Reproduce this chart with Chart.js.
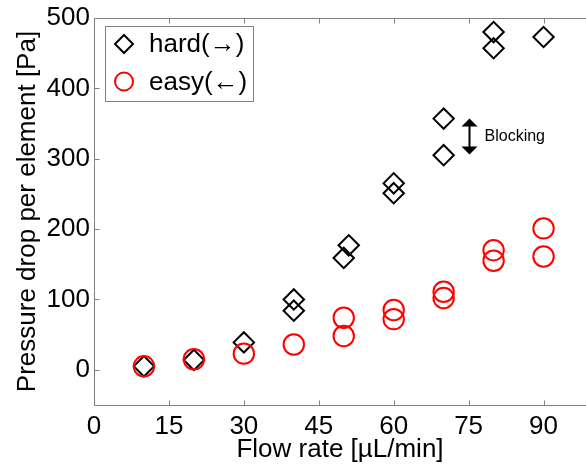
<!DOCTYPE html>
<html><head><meta charset="utf-8">
<script src="https://cdn.jsdelivr.net/npm/chart.js@4.4.1/dist/chart.umd.min.js"></script>
<style>html,body{margin:0;padding:0;background:#fff;overflow:hidden}canvas{display:block}</style>
</head><body>
<canvas id="c" width="586" height="466"></canvas>
<script>
// ---- data ----
const hardLabel = 'hard(\u2192)';
const hardX = [10, 20, 30, 40, 40, 50, 51, 60, 60, 70, 70, 80, 80, 90];
const hardY = [5, 14, 39, 100, 84, 159, 177, 265, 251, 357, 305, 480, 457, 473];
const easyLabel = 'easy(\u2190)';
const easyX = [10, 20, 30, 40, 50, 50, 60, 60, 70, 70, 80, 80, 90, 90];
const easyY = [5, 15, 23, 36, 74, 48, 85, 72, 111, 102, 170, 155, 201, 161];
const xTicks = [0, 15, 30, 45, 60, 75, 90];
const yTicks = [0, 100, 200, 300, 400, 500];
const xTitle = 'Flow rate [\u00b5L/min]';
const yTitle = 'Pressure drop per element [Pa]';
const blockLabel = 'Blocking';
const blockX = 75;
const blockTop = 357;
const blockBottom = 306;

const FONT = '"Liberation Sans", Arial, Helvetica, sans-serif';
const AXIS_COLOR = '#808080';

const axesPlugin = {
  id: 'axesBox',
  beforeDatasetsDraw(chart) {
    const {ctx, chartArea: {left, top, right, bottom}, scales: {x, y}} = chart;
    ctx.save();
    ctx.strokeStyle = AXIS_COLOR;
    ctx.lineWidth = 1;
    const L = Math.floor(left) + 0.5, T = Math.floor(top) + 0.5, B = Math.floor(bottom) + 0.5;
    ctx.beginPath();
    ctx.moveTo(L, B); ctx.lineTo(L, T); ctx.lineTo(right + 2, T);
    ctx.moveTo(L, B); ctx.lineTo(right + 2, B);
    const tl = 5;
    xTicks.forEach(v => {
      const px = Math.round(x.getPixelForValue(v)) + 0.5;
      ctx.moveTo(px, B); ctx.lineTo(px, B - tl);
      ctx.moveTo(px, T); ctx.lineTo(px, T + tl);
    });
    yTicks.forEach(v => {
      const py = Math.round(y.getPixelForValue(v)) + 0.5;
      ctx.moveTo(L, py); ctx.lineTo(L + tl, py);
    });
    ctx.stroke();
    ctx.restore();
  }
};

function drawMarker(ctx, style, cx, cy, r, color, lw) {
  ctx.save();
  ctx.strokeStyle = color; ctx.lineWidth = lw;
  ctx.beginPath();
  if (style === 'rectRot') {
    ctx.moveTo(cx - r, cy); ctx.lineTo(cx, cy - r); ctx.lineTo(cx + r, cy); ctx.lineTo(cx, cy + r); ctx.closePath();
  } else {
    ctx.arc(cx, cy, r, 0, Math.PI * 2);
  }
  ctx.stroke();
  ctx.restore();
}

const legendPlugin = {
  id: 'boxLegend',
  afterDraw(chart) {
    const {ctx} = chart;
    const bx = 105.5, by = 26.5, bw = 148, bh = 75;
    ctx.save();
    ctx.fillStyle = '#fff';
    ctx.fillRect(bx, by, bw, bh);
    ctx.strokeStyle = AXIS_COLOR; ctx.lineWidth = 1;
    ctx.strokeRect(bx, by, bw, bh);
    ctx.font = '26px ' + FONT;
    ctx.fillStyle = '#000';
    ctx.textBaseline = 'middle';
    chart.data.datasets.forEach((ds, i) => {
      const cy = 44 + i * 37.5;
      drawMarker(ctx, ds.pointStyle, 124, cy, 9, ds.borderColor, 2);
      ctx.fillText(ds.label, 149, cy + 1);
    });
    ctx.restore();
  }
};

const annotPlugin = {
  id: 'blocking',
  afterDatasetsDraw(chart) {
    const {ctx, scales: {x, y}} = chart;
    const px = Math.round(x.getPixelForValue(blockX)) + 0.5;
    const yt = y.getPixelForValue(blockTop), yb = y.getPixelForValue(blockBottom);
    const hw = 8, hh = 8;
    ctx.save();
    ctx.strokeStyle = '#000'; ctx.fillStyle = '#000'; ctx.lineWidth = 2;
    ctx.beginPath(); ctx.moveTo(px, yt + hh - 1); ctx.lineTo(px, yb - hh + 1); ctx.stroke();
    ctx.beginPath(); ctx.moveTo(px, yt); ctx.lineTo(px - hw, yt + hh); ctx.lineTo(px + hw, yt + hh); ctx.closePath(); ctx.fill();
    ctx.beginPath(); ctx.moveTo(px, yb); ctx.lineTo(px - hw, yb - hh); ctx.lineTo(px + hw, yb - hh); ctx.closePath(); ctx.fill();
    ctx.font = '16px ' + FONT;
    ctx.textBaseline = 'middle';
    ctx.fillText(blockLabel, px + 15, (yt + yb) / 2 + 0.5);
    ctx.restore();
  }
};

Chart.defaults.font.family = FONT;
new Chart(document.getElementById('c').getContext('2d'), {
  type: 'scatter',
  data: {
    datasets: [
      {
        label: hardLabel, order: 1,
        data: hardX.map((v, i) => ({x: v, y: hardY[i]})),
        pointStyle: 'rectRot', pointRadius: 10.2, pointHoverRadius: 10.2,
        borderColor: '#000000', backgroundColor: 'rgba(0,0,0,0)', borderWidth: 2, pointBorderWidth: 2
      },
      {
        label: easyLabel, order: 0,
        data: easyX.map((v, i) => ({x: v, y: easyY[i]})),
        pointStyle: 'circle', pointRadius: 10.2, pointHoverRadius: 10.2,
        borderColor: '#ff0000', backgroundColor: 'rgba(0,0,0,0)', borderWidth: 2, pointBorderWidth: 2
      }
    ]
  },
  options: {
    responsive: false, animation: false, devicePixelRatio: 1,
    layout: {autoPadding: false, padding: {top: 18, left: 0, right: 0, bottom: 0}},
    plugins: {legend: {display: false}, tooltip: {enabled: false}},
    events: [],
    scales: {
      x: {
        type: 'linear', min: 0, max: 98.5,
        afterBuildTicks: s => { s.ticks = xTicks.map(v => ({value: v})); },
        afterFit: s => { s.height = 61; s.paddingLeft = 0; s.paddingRight = 0; },
        grid: {display: false, drawTicks: false}, border: {display: false},
        ticks: {font: {size: 26}, color: '#000', padding: 6, maxRotation: 0, autoSkip: false},
        title: {display: true, text: xTitle, font: {size: 26}, color: '#000', padding: {top: 0, bottom: 1}}
      },
      y: {
        type: 'linear', min: -50, max: 500,
        afterBuildTicks: s => { s.ticks = yTicks.map(v => ({value: v})); },
        afterFit: s => { s.width = 94; s.paddingTop = 0; s.paddingBottom = 0; },
        grid: {display: false, drawTicks: false}, border: {display: false},
        ticks: {font: {size: 26}, color: '#000', padding: 4, autoSkip: false},
        title: {display: true, text: yTitle, font: {size: 26}, color: '#000', padding: {top: 12, bottom: 0}}
      }
    }
  },
  plugins: [axesPlugin, annotPlugin, legendPlugin]
});
</script>
</body></html>
